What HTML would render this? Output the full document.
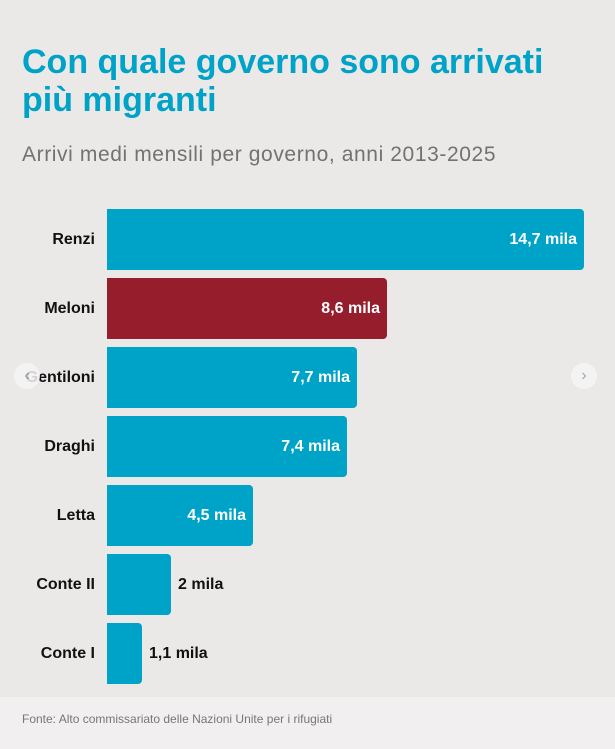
<!DOCTYPE html>
<html><head><meta charset="utf-8"><style>
body{margin:0;width:615px;height:749px;overflow:hidden;background:#ebe8e8;font-family:"Liberation Sans",sans-serif;position:relative}
.t{position:absolute;left:22px;top:43px;color:#00a3c8;font-size:34px;font-weight:bold;line-height:38px;letter-spacing:0px}
.s{position:absolute;left:22px;top:143px;color:#727272;font-size:21px;letter-spacing:0.6px}
.bar{position:absolute;left:107px;height:61px;background:#00a3c8;border-radius:0 4px 4px 0}
.v{position:absolute;color:#fff;font-size:16px;line-height:61px;text-align:right;font-weight:bold}
.o{color:#111}
.l{position:absolute;right:520px;font-size:16px;line-height:61px;color:#111;text-align:right;font-weight:bold}
.f{position:absolute;left:22px;top:712px;font-size:12px;color:#777}
.arr{position:absolute;width:26px;height:26px;border-radius:50%;background:#f5f5f5;opacity:.85;color:#999;font-size:16px;text-align:center;line-height:25px}
.foot{position:absolute;left:0;top:697px;width:615px;height:52px;background:#f1efef}
</style></head><body>
<div class="foot"></div>
<div class="t">Con quale governo sono arrivati<br>più migranti</div>
<div class="s">Arrivi medi mensili per governo, anni 2013-2025</div>

<div class="l" style="top:209px">Renzi</div>
<div class="bar" style="top:209px;width:477px"></div>
<div class="v" style="top:209px;left:107px;width:470px">14,7 mila</div>

<div class="l" style="top:278px">Meloni</div>
<div class="bar" style="top:278px;width:280px;background:#951d2c"></div>
<div class="v" style="top:278px;left:107px;width:273px">8,6 mila</div>

<div class="l" style="top:347px">Gentiloni</div>
<div class="bar" style="top:347px;width:250px"></div>
<div class="v" style="top:347px;left:107px;width:243px">7,7 mila</div>

<div class="l" style="top:416px">Draghi</div>
<div class="bar" style="top:416px;width:240px"></div>
<div class="v" style="top:416px;left:107px;width:233px">7,4 mila</div>

<div class="l" style="top:485px">Letta</div>
<div class="bar" style="top:485px;width:146px"></div>
<div class="v" style="top:485px;left:107px;width:139px">4,5 mila</div>

<div class="l" style="top:554px">Conte II</div>
<div class="bar" style="top:554px;width:64px"></div>
<div class="v o" style="top:554px;left:178px">2 mila</div>

<div class="l" style="top:623px">Conte I</div>
<div class="bar" style="top:623px;width:35px"></div>
<div class="v o" style="top:623px;left:149px">1,1 mila</div>

<div class="arr" style="left:14px;top:363px">‹</div>
<div class="arr" style="left:571px;top:363px">›</div>
<div class="f">Fonte: Alto commissariato delle Nazioni Unite per i rifugiati</div>
</body></html>
